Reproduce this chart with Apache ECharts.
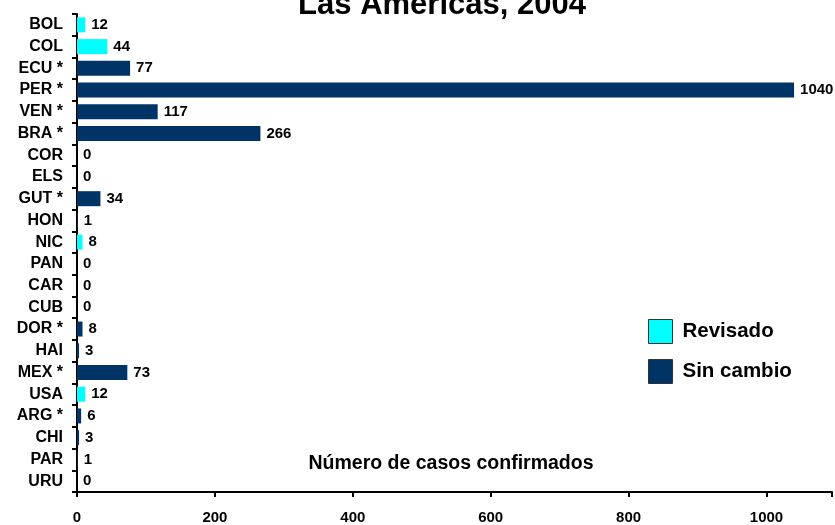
<!DOCTYPE html>
<html><head><meta charset="utf-8">
<script src="https://cdn.jsdelivr.net/npm/echarts@6/dist/echarts.min.js"></script>
<style>html,body{margin:0;padding:0;background:#fff}#c{width:835px;height:525px}</style>
</head><body><div id="c"></div>
<script>
const categories = ['BOL','COL','ECU *','PER *','VEN *','BRA *','COR','ELS','GUT *','HON','NIC','PAN','CAR','CUB','DOR *','HAI','MEX *','USA','ARG *','CHI','PAR','URU'];
const revisado   = [12, 44, '-', '-', '-', '-', '-', '-', '-', '-', 8, '-', '-', '-', '-', '-', '-', 12, '-', '-', '-', '-'];
const sinCambio  = ['-', '-', 77, 1040, 117, 266, 0, 0, 34, 1, '-', 0, 0, 0, 8, 3, 73, '-', 6, 3, 1, 0];
const xTicks = [0, 200, 400, 600, 800, 1000];

const FONT = 'Liberation Sans, Arial, sans-serif';
const chart = echarts.init(document.getElementById('c'));
const lbl = {show: true, position: 'right', color: '#000', fontWeight: 'bold', fontSize: 15, fontFamily: FONT, distance: 6,
  formatter: p => (p.value === '-' ? '' : p.value)};
chart.setOption({
  animation: false,
  title: [
    {text: 'Las Américas, 2004', left: 437, top: -15, textAlign: 'center',
     textStyle: {fontSize: 31, fontWeight: 'bold', color: '#000', fontFamily: FONT}},
    {text: 'Número de casos confirmados', left: 446, top: 449, textAlign: 'center',
     textStyle: {fontSize: 19.5, fontWeight: 'bold', color: '#000', fontFamily: FONT}}
  ],
  legend: {
    orient: 'vertical', left: 648, top: 319, itemWidth: 24, itemHeight: 24, itemGap: 15,
    icon: 'rect', padding: 0,
    textStyle: {fontSize: 20.5, fontWeight: 'bold', color: '#000', fontFamily: FONT, padding: [0,0,0,5]},
    data: [
      {name: 'Revisado', itemStyle: {borderColor: '#333', borderWidth: 1}},
      {name: 'Sin cambio', itemStyle: {borderColor: '#333', borderWidth: 1}}
    ]
  },
  grid: {left: 77, right: 0, top: 14, bottom: 32, containLabel: false},
  xAxis: {
    type: 'value', min: 0, max: 1095, interval: 200,
    axisLine: {show: true, lineStyle: {color: '#000', width: 2}},
    axisTick: {show: true, inside: false, length: 5, lineStyle: {color: '#000', width: 2}},
    splitLine: {show: false},
    axisLabel: {fontSize: 15, fontWeight: 'bold', color: '#000', margin: 18, fontFamily: FONT,
      formatter: v => (xTicks.indexOf(v) >= 0 ? v : '')}
  },
  yAxis: {
    type: 'category', data: categories, inverse: true,
    axisLine: {show: true, lineStyle: {color: '#000', width: 2}},
    axisTick: {show: true, length: 5, lineStyle: {color: '#000', width: 2}},
    axisLabel: {fontSize: 16, fontWeight: 'bold', color: '#000', margin: 14, fontFamily: FONT}
  },
  series: [
    {name: 'Revisado', type: 'bar', stack: 'a', data: revisado, barWidth: 15,
     itemStyle: {color: '#00FFFF'}, label: lbl},
    {name: 'Sin cambio', type: 'bar', stack: 'a', data: sinCambio, barWidth: 15,
     itemStyle: {color: '#003366'}, label: lbl}
  ]
});
</script></body></html>
